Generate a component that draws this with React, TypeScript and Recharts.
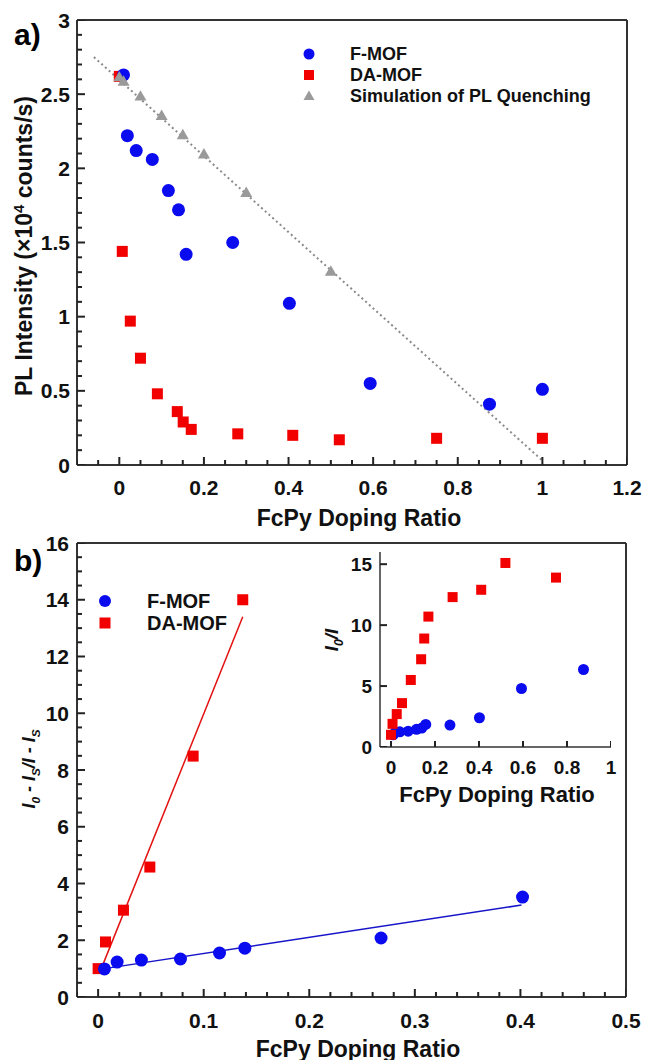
import React from "react";
import { ScatterChart, Scatter, XAxis, YAxis, ReferenceLine } from "recharts";

const FONT = "'Liberation Sans', Arial, Helvetica, sans-serif";
const BLUE = "#0b0bf0";
const RED = "#f20000";
const GRAY = "#9a9a9a";
const AXIS = "#333333";

// ---- panel a: PL intensity vs doping ratio
const fMofX = [0.01, 0.019, 0.04, 0.078, 0.116, 0.14, 0.158, 0.268, 0.402, 0.593, 0.875, 1.0];
const fMofPL = [2.63, 2.22, 2.12, 2.06, 1.85, 1.72, 1.42, 1.5, 1.09, 0.55, 0.41, 0.51];
const daMofX = [0.0, 0.007, 0.026, 0.05, 0.09, 0.137, 0.151, 0.17, 0.28, 0.41, 0.52, 0.75, 1.0];
const daMofPL = [2.62, 1.44, 0.97, 0.72, 0.48, 0.36, 0.29, 0.24, 0.21, 0.2, 0.17, 0.18, 0.18];
const simX = [0.0, 0.01, 0.05, 0.1, 0.15, 0.2, 0.3, 0.5];
const simPL = [2.61, 2.58, 2.48, 2.35, 2.22, 2.09, 1.83, 1.3];
const simLineX = [-0.06, 1.0];
const simLineY = [2.75, 0.03];

const aXTicks = [0, 0.2, 0.4, 0.6, 0.8, 1, 1.2];
const aXLabels = ["0", "0.2", "0.4", "0.6", "0.8", "1", "1.2"];
const aYTicks = [0, 0.5, 1, 1.5, 2, 2.5, 3];
const aYLabels = ["0", "0.5", "1", "1.5", "2", "2.5", "3"];

// ---- panel b: Stern-Volmer
const fMofSvX = [0.006, 0.018, 0.041, 0.078, 0.115, 0.139, 0.268, 0.402];
const fMofSv = [0.99, 1.23, 1.3, 1.34, 1.55, 1.72, 2.08, 3.52];
const daMofSvX = [0.0, 0.007, 0.024, 0.049, 0.09, 0.137];
const daMofSv = [1.0, 1.94, 3.06, 4.58, 8.49, 14.0];
const fMofFitX = [0.006, 0.401];
const fMofFitY = [1.0, 3.24];
const daMofFitX = [0.003, 0.137];
const daMofFitY = [1.0, 13.4];

const bXTicks = [0, 0.1, 0.2, 0.3, 0.4, 0.5];
const bXLabels = ["0", "0.1", "0.2", "0.3", "0.4", "0.5"];
const bYTicks = [0, 2, 4, 6, 8, 10, 12, 14, 16];
const bYLabels = ["0", "2", "4", "6", "8", "10", "12", "14", "16"];

// ---- inset: I0/I
const fMofInsetX = [0.01, 0.019, 0.04, 0.078, 0.116, 0.14, 0.158, 0.268, 0.402, 0.593, 0.875];
const fMofI0I = [1.0, 1.2, 1.25, 1.3, 1.45, 1.55, 1.85, 1.8, 2.4, 4.8, 6.36];
const daMofInsetX = [0.0, 0.007, 0.026, 0.05, 0.09, 0.137, 0.151, 0.17, 0.28, 0.41, 0.52, 0.75];
const daMofI0I = [1.0, 1.9, 2.7, 3.6, 5.5, 7.2, 8.9, 10.7, 12.3, 12.9, 15.1, 13.9];

const iXTicks = [0, 0.2, 0.4, 0.6, 0.8, 1];
const iXLabels = ["0", "0.2", "0.4", "0.6", "0.8", "1"];
const iYTicks = [0, 5, 10, 15];
const iYLabels = ["0", "5", "10", "15"];

const pts = (xs: number[], ys: number[]) => xs.map((x, i) => ({ x, y: ys[i] }));

// minor tick positions (styling only)
const steps = (from: number, to: number, step: number) => {
  const out: number[] = [];
  const n = Math.round((to - from) / step);
  for (let i = 0; i <= n; i++) out.push(Math.round((from + i * step) * 1000) / 1000);
  return out;
};

const findMajor = (majors: number[], v: number) => majors.findIndex((m) => Math.abs(m - v) < 1e-6);
const minorsOf = (all: number[], majors: number[]) => all.filter((v) => findMajor(majors, v) < 0);

// tick marks as scatter layers on the axes, pointing inward
const onX = (vals: number[], at: number) => vals.map((x) => ({ x, y: at }));
const onY = (vals: number[], at: number) => vals.map((y) => ({ x: at, y }));
const upTick = (len: number) => (p: any) =>
  <path d={`M${p.cx},${p.cy}L${p.cx},${p.cy - len}`} stroke="#222" strokeWidth={2} fill="none" />;
const rightTick = (len: number) => (p: any) =>
  <path d={`M${p.cx},${p.cy}L${p.cx + len},${p.cy}`} stroke="#222" strokeWidth={2} fill="none" />;

const circle = (r: number, fill: string) => (p: any) =>
  <circle cx={p.cx} cy={p.cy} r={r} fill={fill} />;
const square = (s: number, fill: string) => (p: any) =>
  <rect x={p.cx - s / 2} y={p.cy - s / 2} width={s} height={s} fill={fill} />;
const triangle = (s: number, fill: string) => (p: any) => {
  const h = (s * Math.sqrt(3)) / 2;
  return (
    <polygon
      points={`${p.cx},${p.cy - (2 * h) / 3} ${p.cx - s / 2},${p.cy + h / 3} ${p.cx + s / 2},${p.cy + h / 3}`}
      fill={fill}
    />
  );
};
const noDot = () => <g />;

// axis ticks use tickSize=1 + tickMargin=1, so the axis line sits 2px back from p.x / p.y
const GAP = 2;

function xLabel(majors: number[], labels: string[], fs: number, off: number) {
  return (p: any) => {
    const idx = findMajor(majors, p.payload.value);
    if (idx < 0) return <g />;
    return (
      <text x={p.x} y={p.y - GAP + off} textAnchor="middle" dominantBaseline="central"
        fontFamily={FONT} fontWeight="bold" fontSize={fs} fill="#111">
        {labels[idx]}
      </text>
    );
  };
}

function yLabel(majors: number[], labels: string[], fs: number, off: number) {
  return (p: any) => {
    const idx = findMajor(majors, p.payload.value);
    if (idx < 0) return <g />;
    return (
      <text x={p.x + GAP - off} y={p.y} textAnchor="end" dominantBaseline="central"
        fontFamily={FONT} fontWeight="bold" fontSize={fs} fill="#111">
        {labels[idx]}
      </text>
    );
  };
}

const abs = (left: number, top: number): React.CSSProperties => ({ position: "absolute", left, top });

function VLabel({ cx, cy, size, children, italic }: any) {
  return (
    <div
      style={{
        position: "absolute", left: cx, top: cy, transform: "translate(-50%, -50%) rotate(-90deg)",
        whiteSpace: "nowrap", fontFamily: FONT, fontWeight: "bold", fontSize: size, lineHeight: 1,
        fontStyle: italic ? "italic" : "normal", color: "#111",
      }}
    >
      {children}
    </div>
  );
}

function HLabel({ cx, cy, size, children }: any) {
  return (
    <div
      style={{
        position: "absolute", left: cx, top: cy, transform: "translate(-50%, -50%)",
        whiteSpace: "nowrap", fontFamily: FONT, fontWeight: "bold", fontSize: size, lineHeight: 1, color: "#111",
      }}
    >
      {children}
    </div>
  );
}

function LegendRow({ x, y, textX, size, marker, label }: any) {
  return (
    <>
      <svg style={{ position: "absolute", left: x - 8, top: y - 8 }} width={16} height={16}>
        {marker}
      </svg>
      <div style={{ position: "absolute", left: textX, top: y, transform: "translateY(-50%)", fontFamily: FONT,
        fontWeight: "bold", fontSize: size, lineHeight: 1, whiteSpace: "nowrap", color: "#111" }}>
        {label}
      </div>
    </>
  );
}

const frameLine = { stroke: AXIS, strokeWidth: 2 };

export default function App() {
  const aXMinor = minorsOf(steps(-0.1, 1.2, 0.05), aXTicks);
  const aYMinor = minorsOf(steps(0, 3, 0.1), aYTicks);
  const bXMinor = minorsOf(steps(-0.02, 0.5, 0.02), bXTicks);
  const bYMinor = minorsOf(steps(0, 16, 0.5), bYTicks);
  return (
    <div style={{ position: "absolute", left: 0, top: 0, width: 646, height: 1060, background: "#fff", overflow: "hidden" }}>
      {/* panel a */}
      <div style={abs(0, 0)}>
        <ScatterChart width={646} height={520} margin={{ top: 20, right: 19, bottom: 0, left: 0 }}>
          <XAxis type="number" dataKey="x" domain={[-0.1, 1.2]} allowDataOverflow ticks={aXTicks}
            interval={0} height={55} tickSize={1} tickMargin={1} axisLine={frameLine} tickLine={false}
            tick={xLabel(aXTicks, aXLabels, 21, 22)} />
          <YAxis type="number" dataKey="y" domain={[0, 3]} allowDataOverflow ticks={aYTicks}
            interval={0} width={77} tickSize={1} tickMargin={1} axisLine={frameLine} tickLine={false}
            tick={yLabel(aYTicks, aYLabels, 21, 7)} />
          <ReferenceLine y={3} {...frameLine} />
          <ReferenceLine x={1.2} {...frameLine} />
          <Scatter data={pts(simLineX, simLineY)} line={{ stroke: "#8a8a8a", strokeWidth: 2, strokeDasharray: "2 3" }}
            shape={noDot} isAnimationActive={false} />
          <Scatter data={pts(daMofX, daMofPL)} shape={square(11, RED)} isAnimationActive={false} />
          <Scatter data={pts(fMofX, fMofPL)} shape={circle(6.5, BLUE)} isAnimationActive={false} />
          <Scatter data={pts(simX, simPL)} shape={triangle(12, GRAY)} isAnimationActive={false} />
          <Scatter data={onX(aXTicks, 0)} shape={upTick(8)} isAnimationActive={false} />
          <Scatter data={onX(aXMinor, 0)} shape={upTick(5)} isAnimationActive={false} />
          <Scatter data={onY(aYTicks, -0.1)} shape={rightTick(8)} isAnimationActive={false} />
          <Scatter data={onY(aYMinor, -0.1)} shape={rightTick(5)} isAnimationActive={false} />
        </ScatterChart>
      </div>

      {/* panel b */}
      <div style={abs(0, 520)}>
        <ScatterChart width={646} height={540} margin={{ top: 23, right: 20, bottom: 0, left: 0 }}>
          <XAxis type="number" dataKey="x" domain={[-0.02, 0.5]} allowDataOverflow ticks={bXTicks}
            interval={0} height={63} tickSize={1} tickMargin={1} axisLine={frameLine} tickLine={false}
            tick={xLabel(bXTicks, bXLabels, 21, 23)} />
          <YAxis type="number" dataKey="y" domain={[0, 16]} allowDataOverflow ticks={bYTicks}
            interval={0} width={77} tickSize={1} tickMargin={1} axisLine={frameLine} tickLine={false}
            tick={yLabel(bYTicks, bYLabels, 21, 8)} />
          <ReferenceLine y={16} {...frameLine} />
          <ReferenceLine x={0.5} {...frameLine} />
          <Scatter data={pts(daMofFitX, daMofFitY)} line={{ stroke: "#e31010", strokeWidth: 1.5 }}
            shape={noDot} isAnimationActive={false} />
          <Scatter data={pts(fMofFitX, fMofFitY)} line={{ stroke: "#1616c8", strokeWidth: 1.5 }}
            shape={noDot} isAnimationActive={false} />
          <Scatter data={pts(daMofSvX, daMofSv)} shape={square(11, RED)} isAnimationActive={false} />
          <Scatter data={pts(fMofSvX, fMofSv)} shape={circle(6.5, BLUE)} isAnimationActive={false} />
          <Scatter data={onX(bXTicks, 0)} shape={upTick(8)} isAnimationActive={false} />
          <Scatter data={onX(bXMinor, 0)} shape={upTick(5)} isAnimationActive={false} />
          <Scatter data={onY(bYTicks, -0.02)} shape={rightTick(8)} isAnimationActive={false} />
          <Scatter data={onY(bYMinor, -0.02)} shape={rightTick(5)} isAnimationActive={false} />
        </ScatterChart>
      </div>

      {/* inset */}
      <div style={abs(330, 540)}>
        <ScatterChart width={300} height={237} margin={{ top: 12, right: 19, bottom: 0, left: 0 }}>
          <XAxis type="number" dataKey="x" domain={[-0.05, 1]} allowDataOverflow ticks={iXTicks}
            interval={0} height={30} tickSize={1} tickMargin={1} axisLine={{ stroke: AXIS, strokeWidth: 1.5 }} tickLine={false}
            tick={xLabel(iXTicks, iXLabels, 19, 20)} />
          <YAxis type="number" dataKey="y" domain={[0, 16]} allowDataOverflow ticks={iYTicks}
            interval={0} width={50} tickSize={1} tickMargin={1} axisLine={{ stroke: AXIS, strokeWidth: 1.5 }} tickLine={false}
            tick={yLabel(iYTicks, iYLabels, 19, 8)} />
          <Scatter data={pts(fMofInsetX, fMofI0I)} shape={circle(5.5, BLUE)} isAnimationActive={false} />
          <Scatter data={pts(daMofInsetX, daMofI0I)} shape={square(10, RED)} isAnimationActive={false} />
          <Scatter data={onX(iXTicks, 0)} shape={upTick(6)} isAnimationActive={false} />
          <Scatter data={onY(iYTicks, -0.05)} shape={rightTick(7)} isAnimationActive={false} />
        </ScatterChart>
      </div>

      {/* text */}
      <div style={{ ...abs(14, 20), fontFamily: FONT, fontWeight: "bold", fontSize: 30, lineHeight: 1 }}>a)</div>
      <div style={{ ...abs(14, 546), fontFamily: FONT, fontWeight: "bold", fontSize: 30, lineHeight: 1 }}>b)</div>

      <VLabel cx={24} cy={246} size={23}>
        PL Intensity (×10<span style={{ fontSize: "0.65em", verticalAlign: "0.6em" }}>4</span> counts/s)
      </VLabel>
      <HLabel cx={359} cy={518} size={23}>FcPy Doping Ratio</HLabel>

      <VLabel cx={31} cy={769} size={18} italic>
        I<sub style={{ fontSize: "0.65em" }}>0</sub> - I<sub style={{ fontSize: "0.65em" }}>S</sub>/I - I
        <sub style={{ fontSize: "0.65em" }}>S</sub>
      </VLabel>
      <HLabel cx={358} cy={1049} size={23}>FcPy Doping Ratio</HLabel>

      <VLabel cx={334} cy={640} size={19} italic>
        I<sub style={{ fontSize: "0.65em" }}>0</sub>/I
      </VLabel>
      <HLabel cx={497} cy={795} size={22}>FcPy Doping Ratio</HLabel>

      {/* legends */}
      <LegendRow x={309} y={54} textX={350} size={18} label="F-MOF" marker={<circle cx={8} cy={8} r={5.5} fill={BLUE} />} />
      <LegendRow x={309} y={75} textX={350} size={18} label="DA-MOF" marker={<rect x={3} y={3} width={10} height={10} fill={RED} />} />
      <LegendRow x={309} y={96} textX={350} size={18} label="Simulation of PL Quenching"
        marker={<polygon points="8,2.5 2.5,12 13.5,12" fill={GRAY} />} />

      <LegendRow x={105} y={601} textX={147} size={20} label="F-MOF" marker={<circle cx={8} cy={8} r={6} fill={BLUE} />} />
      <LegendRow x={105} y={623} textX={147} size={20} label="DA-MOF" marker={<rect x={2.5} y={2.5} width={11} height={11} fill={RED} />} />
    </div>
  );
}
